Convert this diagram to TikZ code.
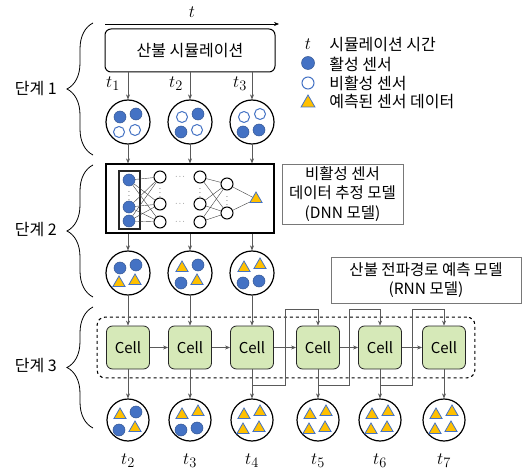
\documentclass[tikz,border=0pt]{standalone}
\usepackage{fontspec}
\setmainfont{Noto Sans CJK KR}
\usetikzlibrary{arrows.meta,shapes.geometric,decorations.pathreplacing,fit}

\definecolor{sensorblue}{RGB}{68,114,196}
\definecolor{predorange}{RGB}{255,192,0}
\definecolor{cellgreen}{RGB}{214,233,184}
\definecolor{linegray}{RGB}{90,90,90}
\definecolor{boxgray}{RGB}{120,120,120}

\begin{document}
\begin{tikzpicture}[x=1pt, y=-1pt, line width=0.6pt, >={Stealth[length=5pt,width=4pt]},
    every node/.style={inner sep=3pt, font=\fontsize{16}{21}\selectfont},
    conn/.style={draw=linegray, ->},
    nnedge/.style={draw=black!75, line width=0.4pt},
    timelbl/.style={font=\fontsize{19}{21}\selectfont},
    sample/.style={circle, draw=black, line width=1.2pt, minimum size=44pt, inner sep=0pt},
    actv/.style={circle, fill=sensorblue, draw=sensorblue!75!black, line width=0.5pt,
      minimum size=12pt, inner sep=0pt},
    inactv/.style={circle, fill=white, draw=sensorblue, line width=1pt,
      minimum size=11pt, inner sep=0pt},
    pred/.style={regular polygon, regular polygon sides=3, fill=predorange, draw=sensorblue,
      line width=0.8pt, minimum size=14pt, inner sep=0pt},
    neuron/.style={circle, draw=black, fill=white, line width=1pt, minimum size=12pt, inner sep=0pt},
    dots/.style={inner sep=0pt, font=\fontsize{7}{7}\selectfont},
    simbox/.style={draw=black, line width=1pt, rounded corners=6pt,
      minimum width=170pt, minimum height=43pt},
    descbox/.style={draw=boxgray, line width=0.6pt, align=center, inner sep=0pt,
      font=\fontsize{15.5}{19.5}\selectfont},
    cellbox/.style={draw=black!85, fill=cellgreen, line width=0.8pt, rounded corners=6pt,
      minimum width=43pt, minimum height=43pt, inner sep=0pt, font=\fontsize{15}{17}\selectfont},
    brace/.style={decorate, decoration={brace, amplitude=26pt}, line width=0.8pt}]

  \useasboundingbox (0,0) rectangle (532,470);

  % stage 1: simulation
  \coordinate (tstart) at (105,24);
  \coordinate (tend) at (279,24);
  \draw[->, black] (tstart) -- node[above=3pt, timelbl] (tlabel) {$t$} (tend);
  \node[simbox] (sim) at (190,50.5) {산불 시뮬레이션};
  \foreach \n/\x in {1/128,2/190,3/252}
    \node[sample] (s\n) at (\x,122) {};
  \node[timelbl] (t1) at (113,84) {$t_1$};
  \node[timelbl] (t2) at (176,84) {$t_2$};
  \node[timelbl] (t3) at (240,84) {$t_3$};

  % legend
  \node[timelbl] (legt) at (308,44) {$t$};
  \node[actv, minimum size=13pt] (legact) at (308,63) {};
  \node[inactv, minimum size=12pt] (leginact) at (308,83) {};
  \node[pred, minimum size=16pt] (legpred) at (308,103) {};
  \node[anchor=west] (legtxt1) at (326,45) {시뮬레이션 시간};
  \node[anchor=west] (legtxt2) at (326,64) {활성 센서};
  \node[anchor=west] (legtxt3) at (326,83) {비활성 센서};
  \node[anchor=west] (legtxt4) at (326,102) {예측된 센서 데이터};

  % stage 2: DNN
  \node[draw=black, line width=1.2pt, minimum width=168pt, minimum height=69pt] (dnn) at (190,198.5) {};
  \node[draw=black!85, line width=1.3pt, minimum width=21pt, minimum height=58pt] (inbox) at (129.5,200) {};
  \node[actv] (in1) at (129,180) {};
  \node[actv] (in2) at (129,207) {};
  \node[actv] (in3) at (129,221) {};
  \foreach \n/\y in {1/177,2/204,3/222} {
    \node[neuron] (ha\n) at (160,\y) {};
    \node[neuron] (hb\n) at (200,\y) {};
    \node[dots] (hd\n) at (180,\y) {$\cdots$};
  }
  \node[neuron] (hc1) at (227,184) {};
  \node[neuron] (hc2) at (227,213) {};
  \node[pred] (out) at (256,199) {};
  \node[dots] (vd1) at (129,193) {$\vdots$};
  \node[dots] (vd2) at (160,190) {$\vdots$};
  \node[dots] (vd3) at (200,190) {$\vdots$};
  \node[dots] (vd4) at (227,198) {$\vdots$};
  \foreach \i in {1,2,3} {
    \foreach \j in {1,2,3}
      \draw[nnedge] (in\i) -- (ha\j);
    \foreach \j in {1,2}
      \draw[nnedge] (hb\i) -- (hc\j);
  }
  \draw[nnedge] (hc1) -- (out);
  \draw[nnedge] (hc2) -- (out);

  \node[descbox, minimum width=121pt, minimum height=60pt] (dnndesc) at (342.5,194)
    {비활성 센서\\데이터 추정 모델\\(DNN 모델)};
  \node[descbox, minimum width=190pt, minimum height=46pt] (rnndesc) at (426,280)
    {산불 전파경로 예측 모델\\(RNN 모델)};

  \foreach \n/\x in {1/128,2/190,3/252}
    \node[sample] (d\n) at (\x,273) {};

  % stage 3: RNN
  \foreach \n/\x in {1/128,2/190,3/252,4/318,5/380,6/444}
    \node[cellbox] (cell\n) at (\x,347.5) {Cell};
  \node[draw=black, dashed, line width=1.1pt, rounded corners=8pt, inner xsep=9pt, inner ysep=8.5pt,
    fit=(cell1)(cell6)] (rnn) {};
  \foreach \n/\x in {2/128,3/190,4/252,5/318,6/380,7/444} {
    \node[sample, minimum size=42pt] (o\n) at (\x,420) {};
    \node[timelbl] (tl\n) at (\x,461) {$t_{\n}$};
  }

  % sensors inside the samples
  \foreach \c/\a/\b/\d/\e in {s1/actv/actv/inactv/inactv, s2/inactv/actv/actv/inactv,
      s3/inactv/inactv/actv/actv, d1/actv/actv/pred/pred, d2/pred/actv/actv/pred,
      d3/pred/pred/actv/actv, o2/pred/actv/actv/pred, o3/pred/pred/actv/actv,
      o4/pred/pred/pred/pred, o5/pred/pred/pred/pred, o6/pred/pred/pred/pred,
      o7/pred/pred/pred/pred} {
    \node[\a] (\c-ul) at ([shift={(-8,-5)}]\c) {};
    \node[\b] (\c-ur) at ([shift={(8,-8)}]\c) {};
    \node[\d] (\c-ll) at ([shift={(-9,10)}]\c) {};
    \node[\e] (\c-lr) at ([shift={(7,8)}]\c) {};
  }

  % connectors
  \foreach \n in {1,2,3} {
    \draw[conn] (s\n |- sim.south) -- (s\n);
    \draw[conn] (s\n) -- (s\n |- dnn.north);
    \draw[conn] (dnn.south -| d\n) -- (d\n);
    \draw[conn] (d\n) -- (cell\n);
  }
  \foreach \n/\m in {1/2,2/3,3/4,4/5,5/6}
    \draw[conn] (cell\n) -- (cell\m);
  \foreach \n/\m in {1/2,2/3,3/4,4/5,5/6,6/7}
    \draw[conn] (cell\n) -- (o\m);
  \coordinate (skipb3) at (285,385);
  \coordinate (skipt3) at (285,309);
  \coordinate (skipb4) at (349,385);
  \coordinate (skipt4) at (349,309);
  \coordinate (skipb5) at (412,385);
  \coordinate (skipt5) at (412,309);
  \foreach \n/\m in {3/4,4/5,5/6}
    \draw[conn] (cell\n.south) |- (skipb\n) -- (skipt\n) -| (cell\m.north);

  % stages
  \coordinate (b1top) at (93,23);
  \coordinate (b1bot) at (93,155);
  \coordinate (b2top) at (93,165);
  \coordinate (b2bot) at (93,297);
  \coordinate (b3top) at (93,307);
  \coordinate (b3bot) at (93,428);
  \draw[brace] (b1bot) -- (b1top);
  \draw[brace] (b2bot) -- (b2top);
  \draw[brace] (b3bot) -- (b3top);
  \node[anchor=east] (stage1) at (60,89) {단계 1};
  \node[anchor=east] (stage2) at (60,230) {단계 2};
  \node[anchor=east] (stage3) at (60,366) {단계 3};
\end{tikzpicture}
\end{document}
